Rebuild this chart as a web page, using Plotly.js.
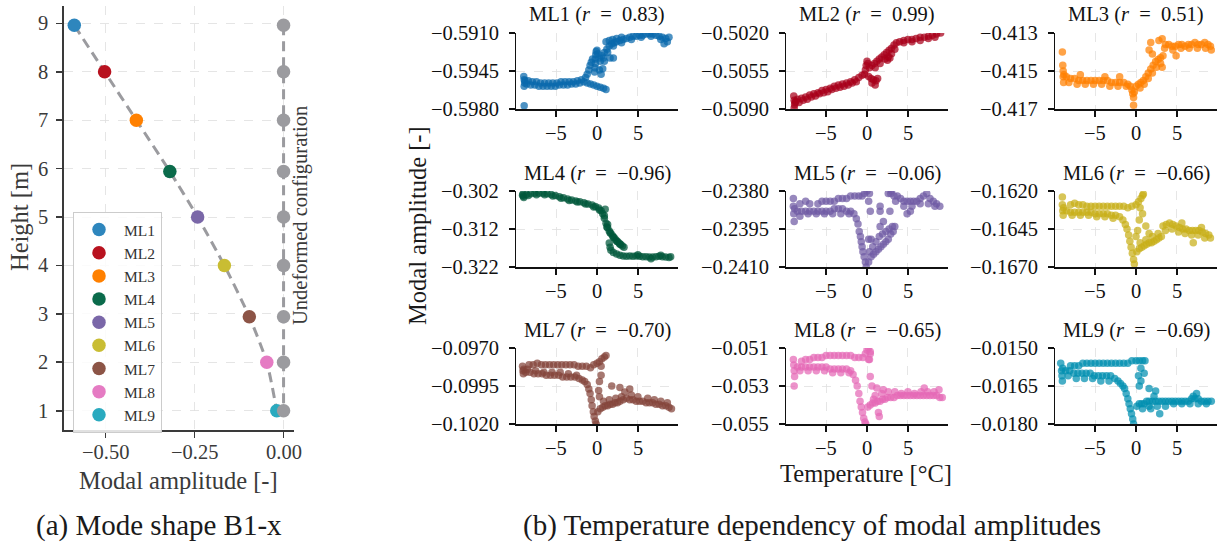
<!DOCTYPE html>
<html>
<head>
<meta charset="utf-8">
<script src="https://cdn.plot.ly/plotly-3.0.1.min.js"></script>
<style>
  html, body { margin: 0; padding: 0; background: #ffffff; }
  #fig { width: 1224px; height: 549px; }
</style>
</head>
<body>
<div id="fig"></div>
<script>
// ---------------------------------------------------------------------------
// Mode shape B1-x: modal amplitude per measurement location (ML1 at the top)
// ---------------------------------------------------------------------------
const locations = ['ML1', 'ML2', 'ML3', 'ML4', 'ML5', 'ML6', 'ML7', 'ML8', 'ML9'];
const heights = [8.96, 8.0, 7.0, 5.94, 5.0, 4.0, 2.94, 2.0, 1.0];
const modeAmplitude = [-0.587, -0.502, -0.413, -0.319, -0.241, -0.166, -0.096, -0.047, -0.019];
const undeformed = [0, 0, 0, 0, 0, 0, 0, 0, 0];
const heightTicks = [1, 2, 3, 4, 5, 6, 7, 8, 9];
const shapeTicks = [-0.5, -0.25, 0];

// Correlation coefficient between temperature and modal amplitude
const correlation = [0.83, 0.99, 0.51, -0.96, -0.06, -0.66, -0.70, -0.65, -0.69];

// Y tick values per location (bottom, middle, top) and the decimals shown
const ampTicks = [
  [-0.5980, -0.5945, -0.5910],
  [-0.5090, -0.5055, -0.5020],
  [-0.417, -0.415, -0.413],
  [-0.322, -0.312, -0.302],
  [-0.2410, -0.2395, -0.2380],
  [-0.1670, -0.1645, -0.1620],
  [-0.1020, -0.0995, -0.0970],
  [-0.055, -0.053, -0.051],
  [-0.0180, -0.0165, -0.0150]
];
const ampDecimals = [4, 4, 3, 3, 4, 4, 4, 3, 4];
const tempTicks = [-5, 0, 5];

// Identified modal amplitude vs. temperature [°C], one list of [T, amplitude] per location
const ml1Obs = [
  [-8.95,-0.5950],[-8.9,-0.5953],[-8.85,-0.5956],[-8.9,-0.5959],[-8.8,-0.5954],[-8.9,-0.5977],
  [-8.4,-0.5954],[-7.9,-0.5955],[-7.4,-0.5955],[-6.9,-0.5956],[-6.4,-0.5956],[-5.9,-0.5956],[-5.4,-0.5956],
  [-4.9,-0.5956],[-4.4,-0.5955],[-3.9,-0.5955],[-3.4,-0.5955],[-2.9,-0.5955],[-2.4,-0.5954],[-1.9,-0.5953],
  [-8.6,-0.5957],[-8.1,-0.5958],[-7.6,-0.5958],[-7.1,-0.5959],[-6.6,-0.5959],[-6.1,-0.5959],[-5.6,-0.5959],
  [-5.1,-0.5959],[-4.6,-0.5958],[-4.1,-0.5958],[-3.6,-0.5958],[-3.1,-0.5957],[-2.6,-0.5957],[-2.1,-0.5956],[-1.6,-0.5955],
  [-1.4,-0.5951],[-1.2,-0.5948],[-1.0,-0.5944],[-0.85,-0.5940],[-0.7,-0.5937],[-0.55,-0.5934],
  [-0.3,-0.5946],[-0.25,-0.5942],[-0.2,-0.5938],[-0.2,-0.5934],[-0.15,-0.5930],[-0.1,-0.5927],[0.0,-0.5926],[0.1,-0.5929],
  [0.3,-0.5933],[0.6,-0.5931],[0.9,-0.5928],[1.2,-0.5925],[1.5,-0.5922],[1.8,-0.5920],[2.1,-0.5919],[2.4,-0.5918],
  [2.8,-0.5917],[3.2,-0.5916],[3.6,-0.5915],[4.0,-0.5914],[4.4,-0.5913],[4.8,-0.5913],[5.2,-0.5912],[5.6,-0.5912],
  [6.0,-0.5911],[6.4,-0.5911],[6.8,-0.5911],[7.2,-0.5912],[7.6,-0.5913],[8.0,-0.5914],[8.4,-0.5915],[8.8,-0.5914],
  [0.4,-0.5936],[0.8,-0.5933],[1.3,-0.5928],[2.0,-0.5922],[3.0,-0.5919],[4.2,-0.5916],[5.4,-0.5914],[6.6,-0.5913],
  [7.8,-0.5916],[8.2,-0.5920],[8.6,-0.5918],
  [1.1,-0.5918],[1.5,-0.5917],[1.9,-0.5916],[2.4,-0.5915],[3.0,-0.5914],
  [-1.2,-0.5956],[-0.8,-0.5957],[-0.4,-0.5958],[0.0,-0.5959],[0.4,-0.5960],[0.8,-0.5961],[1.1,-0.5962],
  [0.3,-0.5944],[0.7,-0.5943],[0.9,-0.5936],[1.6,-0.5933],[2.0,-0.5933],[0.5,-0.5948]
];
const ml2Obs = [
  [-8.95,-0.5078],[-8.9,-0.5082],[-8.85,-0.5086],[-8.9,-0.5089],[-8.8,-0.5084],
  [-8.5,-0.5081],[-8.0,-0.5080],[-7.5,-0.5079],[-7.0,-0.5077],[-6.5,-0.5076],[-6.0,-0.5075],[-5.5,-0.5073],
  [-5.0,-0.5072],[-4.5,-0.5071],[-4.0,-0.5069],[-3.5,-0.5068],[-3.0,-0.5067],[-2.5,-0.5066],[-2.0,-0.5065],
  [-1.5,-0.5063],[-1.0,-0.5061],[-0.6,-0.5059],
  [-8.3,-0.5084],[-7.3,-0.5081],[-6.3,-0.5078],[-5.3,-0.5075],[-4.3,-0.5072],[-3.3,-0.5070],[-2.3,-0.5068],[-1.3,-0.5065],
  [-8.7,-0.5083],[-7.8,-0.5082],[-6.8,-0.5079],[-5.8,-0.5076],[-4.8,-0.5074],[-3.8,-0.5071],[-2.8,-0.5069],[-1.8,-0.5066],
  [-0.3,-0.5058],[-0.2,-0.5054],[-0.1,-0.5050],[0.0,-0.5046],[0.1,-0.5048],
  [0.2,-0.5060],[0.5,-0.5062],[0.8,-0.5063],[1.1,-0.5064],[1.3,-0.5062],[0.6,-0.5066],[1.0,-0.5068],
  [0.3,-0.5052],[0.6,-0.5050],[0.9,-0.5048],[1.2,-0.5046],[1.5,-0.5044],[1.8,-0.5042],[2.1,-0.5040],[2.4,-0.5038],
  [2.7,-0.5036],[3.0,-0.5034],[3.3,-0.5031],[3.6,-0.5029],[4.0,-0.5028],[4.5,-0.5027],[5.0,-0.5026],[5.5,-0.5026],
  [6.0,-0.5025],[6.5,-0.5024],[7.0,-0.5024],[7.5,-0.5023],[8.0,-0.5022],[8.5,-0.5021],[9.0,-0.5020],
  [1.0,-0.5052],[1.6,-0.5048],[2.2,-0.5044],[2.6,-0.5042],[3.0,-0.5039],[3.4,-0.5035],[4.5,-0.5029],[5.5,-0.5028],
  [6.5,-0.5027],[7.5,-0.5025],[8.3,-0.5024],[2.5,-0.5045],[2.8,-0.5043]
];
const ml3Obs = [
  [-9.0,-0.4140],[-8.95,-0.4147],[-8.9,-0.4150],[-8.9,-0.4153],[-8.85,-0.4156],[-8.8,-0.4152],
  [-8.5,-0.4153],[-8.0,-0.4154],[-7.5,-0.4154],[-7.0,-0.4155],[-6.5,-0.4155],[-6.0,-0.4155],[-5.5,-0.4155],
  [-5.0,-0.4155],[-4.5,-0.4155],[-4.0,-0.4155],[-3.5,-0.4155],[-3.0,-0.4156],[-2.5,-0.4156],[-2.0,-0.4156],
  [-1.5,-0.4156],[-1.0,-0.4157],
  [-8.2,-0.4156],[-7.2,-0.4157],[-6.2,-0.4157],[-5.2,-0.4157],[-4.2,-0.4157],[-3.2,-0.4158],[-2.2,-0.4158],[-1.2,-0.4158],
  [-6.8,-0.4152],[-3.8,-0.4153],[-2.0,-0.4153],
  [-0.7,-0.4158],[-0.5,-0.4160],[-0.4,-0.4162],[-0.3,-0.4164],[-0.3,-0.4168],[-0.2,-0.4161],[0.0,-0.4158],
  [0.3,-0.4157],[0.6,-0.4156],[0.9,-0.4155],[1.2,-0.4153],[1.5,-0.4151],[1.8,-0.4149],[2.1,-0.4147],[2.4,-0.4145],
  [2.7,-0.4144],[3.0,-0.4143],[3.3,-0.4142],
  [0.5,-0.4159],[1.0,-0.4157],[1.5,-0.4154],[2.0,-0.4151],[2.5,-0.4148],[3.0,-0.4146],
  [1.6,-0.4139],[1.8,-0.4135],[2.0,-0.4141],[3.2,-0.4148],
  [2.8,-0.4134],[3.2,-0.4133],[3.6,-0.4136],[4.0,-0.4136],[4.4,-0.4137],[4.8,-0.4137],[5.2,-0.4136],[5.6,-0.4136],
  [6.0,-0.4137],[6.4,-0.4136],[6.8,-0.4136],[7.2,-0.4135],[7.6,-0.4136],[8.0,-0.4136],[8.4,-0.4135],[8.8,-0.4136],[9.1,-0.4137],
  [3.5,-0.4138],[4.5,-0.4139],[5.5,-0.4138],[6.5,-0.4138],[7.5,-0.4138],[8.5,-0.4138],[4.9,-0.4142],[9.2,-0.4139]
];
const ml4Obs = [
  [-9.1,-0.3031],[-9.0,-0.3034],[-8.95,-0.3037],[-9.05,-0.3028],
  [-8.6,-0.3029],[-8.1,-0.3027],[-7.6,-0.3026],[-7.1,-0.3026],[-6.6,-0.3026],[-6.1,-0.3027],[-5.6,-0.3029],
  [-5.1,-0.3032],[-4.6,-0.3035],[-4.1,-0.3038],[-3.6,-0.3041],[-3.1,-0.3044],[-2.6,-0.3046],[-2.1,-0.3048],
  [-1.6,-0.3051],[-1.1,-0.3054],[-0.6,-0.3057],[-0.2,-0.3061],[0.2,-0.3065],[0.5,-0.3072],
  [-8.4,-0.3032],[-7.4,-0.3030],[-6.4,-0.3030],[-5.4,-0.3033],[-4.4,-0.3039],[-3.4,-0.3045],[-2.4,-0.3049],
  [-1.4,-0.3054],[-0.4,-0.3062],[0.3,-0.3070],
  [0.7,-0.3080],[0.9,-0.3092],[1.1,-0.3105],[1.3,-0.3117],[1.5,-0.3125],[1.7,-0.3132],[1.9,-0.3138],[2.1,-0.3143],
  [2.3,-0.3148],[2.5,-0.3153],[2.7,-0.3157],[2.9,-0.3161],[3.1,-0.3165],[3.3,-0.3168],
  [1.2,-0.3115],[1.6,-0.3130],[2.0,-0.3142],[2.4,-0.3152],[2.8,-0.3160],[0.9,-0.3085],[1.3,-0.3108],
  [1.5,-0.3157],[1.6,-0.3168],[1.0,-0.3068],
  [1.7,-0.3176],[2.0,-0.3182],[2.4,-0.3186],[2.8,-0.3189],[3.2,-0.3191],[3.6,-0.3192],[4.0,-0.3191],[4.4,-0.3192],
  [4.8,-0.3191],[5.2,-0.3192],[5.6,-0.3193],[6.0,-0.3193],[6.4,-0.3194],[6.8,-0.3194],[7.2,-0.3193],[7.6,-0.3192],
  [8.0,-0.3193],[8.4,-0.3194],[8.8,-0.3195],[9.0,-0.3193],[5.0,-0.3188],[6.6,-0.3198],[7.8,-0.3189]
];
const ml5Obs = [
  [-9.0,-0.2383],[-9.0,-0.2386],[-8.95,-0.2389],[-8.9,-0.2392],[-8.85,-0.2387],
  [-8.5,-0.2388],[-8.0,-0.2388],[-7.5,-0.2388],[-7.0,-0.2388],[-6.5,-0.2388],[-6.0,-0.2388],[-5.5,-0.2388],
  [-5.0,-0.2388],[-4.5,-0.2388],[-4.0,-0.2387],[-3.5,-0.2387],[-3.0,-0.2387],[-2.5,-0.2388],[-2.0,-0.2388],[-1.6,-0.2389],
  [-8.2,-0.2390],[-7.2,-0.2389],[-6.2,-0.2389],[-5.2,-0.2389],[-4.2,-0.2389],[-3.2,-0.2389],[-2.2,-0.2389],
  [-8.2,-0.2385],[-7.5,-0.2384],[-7.0,-0.2385],[-6.0,-0.2385],[-5.5,-0.2384],[-5.0,-0.2384],[-4.5,-0.2384],
  [-4.0,-0.2384],[-3.5,-0.2383],[-3.0,-0.2383],[-2.5,-0.2383],[-2.0,-0.2382],[-1.5,-0.2382],[-1.0,-0.2382],
  [-0.6,-0.2382],[-0.3,-0.2381],[0.0,-0.2380],
  [-1.3,-0.2391],[-1.1,-0.2393],[-0.95,-0.2396],[-0.8,-0.2398],[-0.7,-0.2400],[-0.6,-0.2402],[-0.5,-0.2404],
  [-0.35,-0.2406],[-0.2,-0.2408],[-0.1,-0.2410],
  [0.2,-0.2408],[0.5,-0.2406],[0.8,-0.2405],[1.1,-0.2404],[1.4,-0.2403],[1.7,-0.2402],[2.0,-0.2401],[2.3,-0.2400],
  [2.6,-0.2399],[2.9,-0.2397],[3.2,-0.2396],
  [0.3,-0.2404],[0.7,-0.2402],[1.1,-0.2400],[1.5,-0.2398],[1.9,-0.2397],[2.3,-0.2396],[2.7,-0.2395],[3.1,-0.2394],[3.4,-0.2394],
  [0.2,-0.2399],[0.5,-0.2399],[1.6,-0.2394],[2.0,-0.2392],[1.6,-0.2388],[0.4,-0.2388],[0.2,-0.2384],[1.6,-0.2386],
  [2.8,-0.2388],[0.3,-0.2381],[3.0,-0.2380],[2.6,-0.2381],
  [2.9,-0.2381],[3.3,-0.2382],[3.7,-0.2382],[4.1,-0.2383],[4.5,-0.2384],[4.9,-0.2384],[5.3,-0.2384],[5.7,-0.2384],
  [6.1,-0.2384],[6.5,-0.2383],[6.9,-0.2382],[7.3,-0.2381],[7.7,-0.2383],[8.1,-0.2384],[8.5,-0.2385],[8.9,-0.2386],
  [3.5,-0.2384],[4.5,-0.2386],[5.5,-0.2386],[6.5,-0.2385],[7.5,-0.2385],[8.3,-0.2386],[4.9,-0.2389],[5.3,-0.2388]
];
const ml6Obs = [
  [-9.0,-0.1624],[-9.0,-0.1629],[-8.95,-0.1633],[-8.9,-0.1636],[-8.85,-0.1631],
  [-8.0,-0.1629],[-7.5,-0.1628],[-7.0,-0.1629],[-6.5,-0.1629],[-6.0,-0.1630],[-5.5,-0.1630],[-5.0,-0.1630],
  [-4.5,-0.1630],[-4.0,-0.1630],[-3.5,-0.1630],[-3.0,-0.1630],[-2.5,-0.1630],[-2.0,-0.1630],[-1.5,-0.1630],
  [-1.0,-0.1631],[-0.5,-0.1630],[0.0,-0.1629],[0.3,-0.1627],[0.6,-0.1625],[0.8,-0.1623],[0.5,-0.1631],
  [-8.5,-0.1633],[-8.0,-0.1634],[-7.5,-0.1634],[-7.0,-0.1634],[-6.5,-0.1634],[-6.0,-0.1634],[-5.5,-0.1634],
  [-5.0,-0.1635],[-4.5,-0.1635],[-4.0,-0.1635],[-3.5,-0.1635],[-3.0,-0.1636],[-2.5,-0.1636],[-2.0,-0.1637],
  [-1.6,-0.1639],[-1.3,-0.1642],[-1.1,-0.1645],[-0.9,-0.1649],[-0.75,-0.1653],[-0.6,-0.1657],[-0.45,-0.1661],
  [-0.3,-0.1665],[-0.2,-0.1668],
  [-7.8,-0.1636],[-6.8,-0.1636],[-5.8,-0.1636],[-4.8,-0.1637],[-3.8,-0.1637],[-2.8,-0.1638],
  [0.1,-0.1660],[0.4,-0.1658],[0.7,-0.1657],[1.0,-0.1656],[1.3,-0.1655],[1.6,-0.1654],[1.9,-0.1654],[2.2,-0.1653],
  [2.5,-0.1652],[2.8,-0.1651],[3.1,-0.1650],
  [0.5,-0.1654],[1.2,-0.1652],[2.0,-0.1650],[2.7,-0.1648],
  [0.0,-0.1650],[0.8,-0.1635],[0.4,-0.1639],[1.6,-0.1648],[1.2,-0.1643],[0.9,-0.1622],[7.0,-0.1654],[0.2,-0.1646],
  [3.3,-0.1643],[3.7,-0.1642],[4.1,-0.1641],[4.5,-0.1642],[4.9,-0.1643],[5.3,-0.1644],[5.7,-0.1645],[6.1,-0.1645],
  [6.5,-0.1646],[6.9,-0.1646],[7.3,-0.1646],[7.7,-0.1646],[8.1,-0.1647],[8.5,-0.1648],[8.9,-0.1649],
  [3.6,-0.1646],[4.4,-0.1645],[5.2,-0.1647],[6.0,-0.1648],[6.8,-0.1649],[7.6,-0.1649],[8.4,-0.1651],[9.1,-0.1651],
  [5.6,-0.1641],[8.0,-0.1644]
];
const ml7Obs = [
  [-9.1,-0.0982],[-9.05,-0.0985],[-9.0,-0.0987],[-8.95,-0.0984],
  [-8.3,-0.0981],[-7.8,-0.0981],[-7.3,-0.0980],[-6.8,-0.0981],[-6.3,-0.0981],[-5.8,-0.0981],[-5.3,-0.0981],
  [-4.8,-0.0981],[-4.3,-0.0981],[-3.8,-0.0981],[-3.3,-0.0981],[-2.8,-0.0981],[-2.3,-0.0982],[-1.8,-0.0982],
  [-1.3,-0.0982],[-0.8,-0.0983],[-0.4,-0.0981],[0.0,-0.0980],[0.3,-0.0979],[0.6,-0.0977],[0.9,-0.0976],
  [1.1,-0.0975],[0.5,-0.0982],
  [-8.7,-0.0986],[-8.2,-0.0986],[-7.7,-0.0987],[-7.2,-0.0987],[-6.7,-0.0987],[-6.2,-0.0988],[-5.7,-0.0988],
  [-5.2,-0.0988],[-4.7,-0.0988],[-4.2,-0.0989],[-3.7,-0.0989],[-3.2,-0.0989],[-2.7,-0.0989],[-2.2,-0.0990],
  [-1.8,-0.0991],[-1.5,-0.0992],[-1.2,-0.0994],[-1.0,-0.0997],[-0.85,-0.1000],[-0.7,-0.1004],[-0.6,-0.1008],
  [-0.45,-0.1012],[-0.35,-0.1015],[-0.2,-0.1018],[-0.1,-0.1020],
  [-8.5,-0.0984],[-7.5,-0.0985],[-6.5,-0.0986],[-5.5,-0.0986],[-4.5,-0.0986],[-3.5,-0.0987],[-2.5,-0.0988],
  [0.1,-0.1012],[0.4,-0.1010],[0.7,-0.1009],[1.0,-0.1008],[1.3,-0.1008],[1.6,-0.1007],[1.9,-0.1007],[2.2,-0.1006],
  [2.5,-0.1006],[2.8,-0.1005],[3.2,-0.1004],[3.6,-0.1003],[4.0,-0.1004],[4.4,-0.1004],[4.8,-0.1005],[5.2,-0.1005],
  [5.6,-0.1005],[6.0,-0.1006],[6.4,-0.1006],[6.8,-0.1006],[7.2,-0.1007],[7.6,-0.1007],[8.0,-0.1008],[8.4,-0.1008],
  [8.8,-0.1009],[9.1,-0.1010],
  [0.8,-0.1005],[1.5,-0.1004],[2.3,-0.1003],[3.0,-0.1002],[4.2,-0.1001],[5.0,-0.1002],[6.2,-0.1003],[7.0,-0.1004],
  [7.8,-0.1005],[8.6,-0.1006],
  [0.3,-0.0992],[0.5,-0.0988],[1.8,-0.0995],[0.2,-0.0998],[4.0,-0.0997],[3.4,-0.0999],[2.8,-0.0996],[0.3,-0.1002]
];
const ml8Obs = [
  [-9.0,-0.0516],[-8.95,-0.0519],[-8.9,-0.0522],[-8.85,-0.0525],[-8.9,-0.0530],
  [-8.0,-0.0517],[-7.5,-0.0516],[-7.0,-0.0516],[-6.5,-0.0515],[-6.0,-0.0515],[-5.5,-0.0515],[-5.0,-0.0514],
  [-4.5,-0.0514],[-4.0,-0.0514],[-3.5,-0.0514],[-3.0,-0.0514],[-2.5,-0.0514],[-2.0,-0.0514],[-1.5,-0.0515],
  [-1.0,-0.0515],[-0.5,-0.0515],[-0.2,-0.0513],[0.0,-0.0511],[0.2,-0.0510],[0.4,-0.0512],[0.3,-0.0516],
  [-8.5,-0.0520],[-8.0,-0.0520],[-7.5,-0.0520],[-7.0,-0.0520],[-6.5,-0.0520],[-6.0,-0.0520],[-5.5,-0.0520],
  [-5.0,-0.0520],[-4.5,-0.0521],[-4.0,-0.0521],[-3.5,-0.0521],[-3.0,-0.0521],[-2.5,-0.0521],[-2.0,-0.0522],
  [-1.7,-0.0524],[-1.4,-0.0527],[-1.2,-0.0530],[-1.0,-0.0534],[-0.85,-0.0538],[-0.7,-0.0541],[-0.55,-0.0544],
  [-0.4,-0.0547],[-0.25,-0.0549],[-0.15,-0.0550],
  [-8.2,-0.0522],[-7.2,-0.0522],[-6.2,-0.0522],[-5.2,-0.0522],[-4.2,-0.0523],[-3.2,-0.0523],[-2.2,-0.0523],
  [0.1,-0.0541],[0.4,-0.0540],[0.7,-0.0539],[1.0,-0.0539],[1.3,-0.0538],[1.6,-0.0538],[1.9,-0.0537],[2.2,-0.0537],
  [2.5,-0.0536],[2.9,-0.0536],[3.3,-0.0536],[3.7,-0.0535],[4.1,-0.0535],[4.5,-0.0535],[4.9,-0.0535],[5.3,-0.0535],
  [5.7,-0.0535],[6.1,-0.0535],[6.5,-0.0535],[6.9,-0.0535],[7.3,-0.0535],[7.7,-0.0535],[8.1,-0.0535],[8.5,-0.0535],
  [8.9,-0.0536],[9.2,-0.0536],
  [1.0,-0.0535],[1.8,-0.0534],[2.6,-0.0533],[3.4,-0.0533],[4.2,-0.0534],[5.0,-0.0533],[5.8,-0.0534],[6.6,-0.0533],
  [7.4,-0.0533],[8.2,-0.0533],[8.8,-0.0532],[7.0,-0.0531],
  [0.4,-0.0525],[0.6,-0.0530],[1.4,-0.0544],[1.5,-0.0546],[0.8,-0.0537],[0.2,-0.0516],[0.4,-0.0513],[1.2,-0.0531],[2.0,-0.0532]
];
const ml9Obs = [
  [-9.2,-0.0156],[-9.1,-0.0159],[-9.05,-0.0161],[-9.0,-0.0163],[-8.95,-0.0158],
  [-8.0,-0.0157],[-7.5,-0.0157],[-7.0,-0.0157],[-6.5,-0.0156],[-6.0,-0.0156],[-5.5,-0.0156],[-5.0,-0.0156],
  [-4.5,-0.0156],[-4.0,-0.0156],[-3.5,-0.0156],[-3.0,-0.0156],[-2.5,-0.0156],[-2.0,-0.0156],[-1.5,-0.0156],
  [-1.0,-0.0156],[-0.5,-0.0155],[0.0,-0.0155],[0.4,-0.0155],[0.8,-0.0155],[1.1,-0.0155],[0.6,-0.0158],
  [1.0,-0.0160],[0.3,-0.0161],
  [-8.6,-0.0159],[-8.1,-0.0159],[-7.6,-0.0160],[-7.1,-0.0160],[-6.6,-0.0160],[-6.1,-0.0160],[-5.6,-0.0160],
  [-5.1,-0.0161],[-4.6,-0.0161],[-4.1,-0.0161],[-3.6,-0.0161],[-3.1,-0.0161],[-2.6,-0.0162],[-2.2,-0.0163],
  [-1.9,-0.0164],[-1.6,-0.0165],[-1.4,-0.0166],[-1.2,-0.0168],[-1.0,-0.0170],[-0.85,-0.0172],[-0.7,-0.0174],
  [-0.55,-0.0176],[-0.4,-0.0178],[-0.3,-0.0180],
  [-8.3,-0.0161],[-7.3,-0.0162],[-6.3,-0.0162],[-5.3,-0.0162],[-4.3,-0.0163],[-3.3,-0.0163],
  [0.1,-0.0173],[0.4,-0.0172],[0.7,-0.0172],[1.0,-0.0172],[1.3,-0.0171],[1.6,-0.0171],[2.0,-0.0171],[2.4,-0.0171],
  [2.8,-0.0171],[3.2,-0.0171],[3.6,-0.0171],[4.0,-0.0171],[4.4,-0.0171],[4.8,-0.0171],[5.2,-0.0171],[5.6,-0.0171],
  [6.0,-0.0171],[6.4,-0.0171],[6.8,-0.0170],[7.2,-0.0170],[7.6,-0.0170],[8.0,-0.0171],[8.4,-0.0171],[8.8,-0.0171],
  [9.2,-0.0171],
  [0.8,-0.0174],[1.6,-0.0173],[2.6,-0.0173],[3.6,-0.0173],[4.6,-0.0172],[5.6,-0.0172],[6.6,-0.0172],[7.6,-0.0172],
  [8.6,-0.0172],[7.4,-0.0168],
  [0.4,-0.0165],[1.6,-0.0166],[2.4,-0.0167],[2.9,-0.0176],[1.8,-0.0174],[7.0,-0.0169],[0.6,-0.0163],[2.2,-0.0169]
];
const observations = [ml1Obs, ml2Obs, ml3Obs, ml4Obs, ml5Obs, ml6Obs, ml7Obs, ml8Obs, ml9Obs];

// ---------------------------------------------------------------------------
// Styling
// ---------------------------------------------------------------------------
const W = 1224, H = 549;
const SERIF = 'Liberation Serif';
const markerColors = ['#2e86bd', '#b8121f', '#ff8000', '#0b6b4b', '#7a67a8', '#c9bd33', '#8c5446', '#e57bc3', '#2aaabf'];
const scatterColors = ['#0868ac', '#a8001a', '#ff7f00', '#00573a', '#6f5aa3', '#c8ae18', '#84443a', '#e468b5', '#008fb0'];
const GREY = '#9b9b9f';
const MINUS = '\u2212';
const TICK_SIZE = 20.5;

const px = x => x / W;          // pixel column -> paper x
const py = y => 1 - y / H;      // pixel row -> paper y
const fmt = (v, d) => (v < 0 ? MINUS : '') + Math.abs(v).toFixed(d);

// Panel frames in pixels
const colX = [[516, 678], [786, 948], [1055, 1217]];
const rowY = [[33, 109], [191, 267], [348, 424]];
const titleY = [14.5, 173, 330];

const traces = [];
const annotations = [];
const layout = {
  width: W, height: H,
  margin: {l: 0, r: 0, t: 0, b: 0},
  paper_bgcolor: '#ffffff', plot_bgcolor: '#ffffff',
  font: {family: SERIF, color: '#1a1a1a'},
  showlegend: true,
  legend: {
    x: px(73), y: py(212), xanchor: 'left', yanchor: 'top',
    bgcolor: 'rgba(255,255,255,0.85)', bordercolor: '#cccccc', borderwidth: 1,
    font: {family: SERIF, size: 15.5, color: '#333333'},
    itemsizing: 'trace', itemwidth: 40, tracegroupgap: 0
  },
  annotations: annotations
};

// Tick labels are placed on each axis through its own scale (data value + axis domain edge)
function xTickLabels(axId, vals, texts, shift, color) {
  vals.forEach((v, i) => annotations.push({
    x: v, xref: axId, y: 0, yref: 'y' + axId.slice(1) + ' domain',
    xanchor: 'center', yanchor: 'middle', yshift: -shift, showarrow: false,
    text: texts[i], font: {family: SERIF, size: TICK_SIZE, color: color}
  }));
}
function yTickLabels(axId, vals, texts, shift, color) {
  vals.forEach((v, i) => annotations.push({
    x: 0, xref: 'x' + axId.slice(1) + ' domain', y: v, yref: axId,
    xanchor: 'right', yanchor: 'middle', xshift: -shift, showarrow: false,
    text: texts[i], font: {family: SERIF, size: TICK_SIZE, color: color}
  }));
}

// ---- (a) mode shape -------------------------------------------------------
const shapeAxis = {
  showline: true, linecolor: '#3a3a3a', linewidth: 2, mirror: false,
  ticks: 'outside', ticklen: 6, tickwidth: 1.6, tickcolor: '#3a3a3a',
  showgrid: true, gridcolor: '#dedede', griddash: 'dash', gridwidth: 0.8,
  zeroline: false, showticklabels: false
};
layout.xaxis = Object.assign({}, shapeAxis, {
  domain: [px(64), px(294)], anchor: 'y', range: [-0.6159, 0.0293], tickvals: shapeTicks
});
layout.yaxis = Object.assign({}, shapeAxis, {
  domain: [py(430), py(6)], anchor: 'x', range: [0.602, 9.358], tickvals: heightTicks
});
xTickLabels('x', shapeTicks, shapeTicks.map(v => fmt(v, 2)), 22, '#3a3a3a');
yTickLabels('y', heightTicks, heightTicks.map(v => String(v)), 14, '#3a3a3a');

traces.push({
  type: 'scatter', mode: 'lines', x: modeAmplitude, y: heights,
  xaxis: 'x', yaxis: 'y', showlegend: false, hoverinfo: 'skip',
  line: {color: GREY, width: 3, dash: '10px,6px', shape: 'spline', smoothing: 0.6}
});
locations.forEach((name, i) => {
  traces.push({
    type: 'scatter', mode: 'markers', name: name,
    x: [modeAmplitude[i]], y: [heights[i]], xaxis: 'x', yaxis: 'y',
    marker: {color: markerColors[i], size: 13.5}
  });
});
traces.push({
  type: 'scatter', mode: 'lines+markers', x: undeformed, y: heights,
  xaxis: 'x', yaxis: 'y', showlegend: false, hoverinfo: 'skip',
  line: {color: GREY, width: 3, dash: '10px,6px'},
  marker: {color: GREY, size: 13.5}
});

// ---- (b) temperature dependency, 3 x 3 grid ------------------------------
const gridAxis = {
  showline: true, linecolor: '#111111', linewidth: 1.5, mirror: false,
  ticks: 'outside', ticklen: 6, tickwidth: 1.4, tickcolor: '#111111',
  showgrid: true, gridcolor: '#e0e0e0', griddash: 'dash', gridwidth: 0.8,
  zeroline: false, showticklabels: false
};
observations.forEach((obs, k) => {
  const n = k + 2, row = Math.floor(k / 3), col = k % 3;
  const [x0, x1] = colX[col], [y0, y1] = rowY[row];
  const ticks = ampTicks[k];
  layout['xaxis' + n] = Object.assign({}, gridAxis, {
    domain: [px(x0), px(x1)], anchor: 'y' + n, range: [-9.9, 9.9], tickvals: tempTicks
  });
  layout['yaxis' + n] = Object.assign({}, gridAxis, {
    domain: [py(y1), py(y0)], anchor: 'x' + n, range: [ticks[0], ticks[2]], tickvals: ticks
  });
  xTickLabels('x' + n, tempTicks, tempTicks.map(v => fmt(v, 0)), 24, '#111111');
  yTickLabels('y' + n, ticks, ticks.map(v => fmt(v, ampDecimals[k])), 15, '#111111');

  traces.push({
    type: 'scatter', mode: 'markers',
    x: obs.map(p => p[0]), y: obs.map(p => p[1]),
    xaxis: 'x' + n, yaxis: 'y' + n, showlegend: false, hoverinfo: 'skip',
    marker: {color: scatterColors[k], size: 7.5, opacity: 0.72, line: {width: 0}}
  });
  annotations.push({
    xref: 'paper', yref: 'paper', x: px((x0 + x1) / 2), y: py(titleY[row]),
    xanchor: 'center', yanchor: 'middle', showarrow: false,
    text: locations[k] + ' (<i>r</i>\u00a0\u00a0=\u00a0\u00a0' + fmt(correlation[k], 2) + ')',
    font: {family: SERIF, size: 20.5, color: '#111111'}
  });
});

// ---- labels and captions ---------------------------------------------------
const label = (x, y, text, size, angle, color) => ({
  xref: 'paper', yref: 'paper', x: px(x), y: py(y), xanchor: 'center', yanchor: 'middle',
  showarrow: false, text: text, textangle: angle || 0,
  font: {family: SERIF, size: size, color: color || '#1a1a1a'}
});
annotations.push(
  label(20, 217, 'Height [m]', 24.5, -90, '#3a3a3a'),
  label(178, 480, 'Modal amplitude [-]', 24.5, 0, '#3a3a3a'),
  label(300, 216, 'Undeformed configuration', 20.5, -90, '#3a3a3a'),
  label(418, 226, 'Modal amplitude [-]', 24.5, -90),
  label(866, 473, 'Temperature [\u00b0C]', 24.5, 0),
  label(159, 525, '(a) Mode shape B1-x', 29, 0),
  label(812, 525, '(b) Temperature dependency of modal amplitudes', 29, 0)
);

Plotly.newPlot('fig', traces, layout, {displayModeBar: false, staticPlot: true});
</script>
</body>
</html>
